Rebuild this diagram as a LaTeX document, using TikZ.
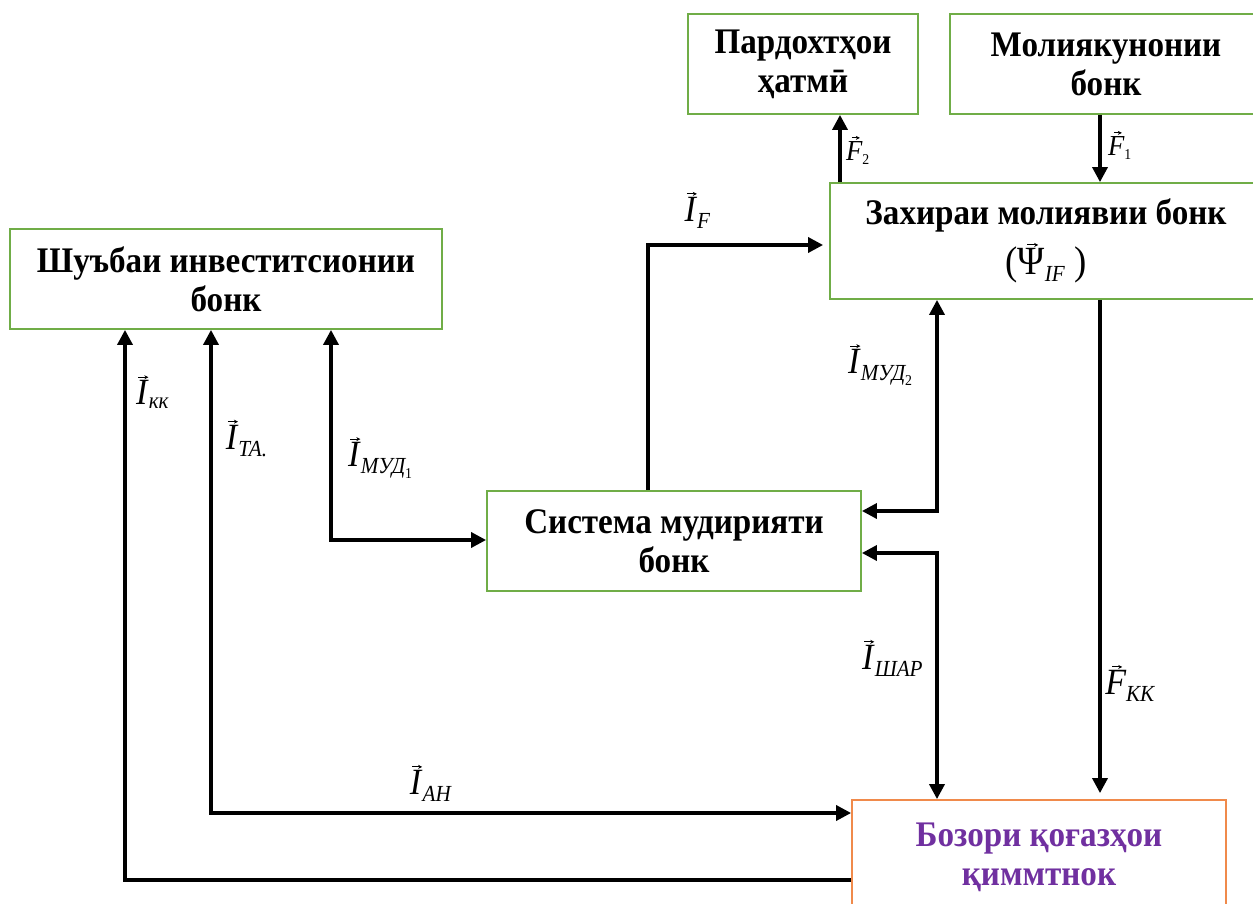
\documentclass[tikz,border=0pt]{standalone}
\usepackage{amsmath}
\usepackage{fontspec}
\setmainfont{Liberation Serif}[FakeStretch=0.92]
\usetikzlibrary{arrows.meta}
\definecolor{boxgreen}{HTML}{70AD47}
\definecolor{boxorange}{HTML}{F08A4B}
\definecolor{txtpurple}{HTML}{7030A0}
\newcommand{\itx}[1]{\text{\itshape #1}}
\newcommand{\sbx}[1]{\text{\fontsize{23}{24}\selectfont\itshape #1}}
\newcommand{\ssbx}[1]{\text{\fontsize{15}{16}\selectfont #1}}
\newcommand{\varw}[2][10pt]{\mathord{\vbox{\offinterlineskip\halign{\hfil##\hfil\cr
  \hbox{\kern3pt\tikz\draw[line width=0.9pt,-{Stealth[length=4pt,width=4pt]}] (0pt,0pt)--(#1,0pt);}\cr
  \noalign{\kern1.5pt}\hbox{#2}\cr}}}}
\tikzset{
  box/.style={draw=boxgreen, line width=1.8pt, inner sep=0pt, align=center,
    font=\fontsize{36}{39}\selectfont\bfseries},
  obox/.style={box, draw=boxorange, text=txtpurple},
  lab/.style={inner sep=0pt, font=\fontsize{37}{40}\selectfont},
  slab/.style={inner sep=0pt, font=\fontsize{29}{32}\selectfont},
  tipa/.tip={Triangle[length=15pt,width=15pt]},
  arr/.style={line width=3.4pt, -tipa},
  arrb/.style={line width=3.4pt, tipa-tipa},
}
\begin{document}
\begin{tikzpicture}[x=1pt,y=-1pt]
\useasboundingbox (0,0) rectangle (1253,904);
\clip (0,0) rectangle (1253,904);
% boxes
\node[box, minimum width=432pt, minimum height=116pt] (zakh) at (1046,241) {\raisebox{0pt}[\height][0pt]{Захираи молиявии бонк}\\[11pt]\mdseries\fontsize{40}{42}\selectfont$\text{(}\varw[11pt]{Ψ}_{\sbx{IF}}\text{ )}$};
\node[box, minimum width=432pt, minimum height=100pt] (shuy) at (226,279) {Шуъбаи инвеститсионии\\бонк};
\node[box, minimum width=230pt, minimum height=100pt] (pard) at (803,64) {Пардохтҳои\\ҳатмӣ};
\node[box, minimum width=312pt, minimum height=100pt] (moli) at (1106,64) {Молиякунонии\\бонк};
\node[box, minimum width=374pt, minimum height=100pt] (sist) at (674,541) {Система мудирияти\\бонк};
\node[obox, minimum width=374pt, minimum height=114pt] (boz) at (1039,857) {Бозори қоғазҳои\\қиммтнок};
% connectors
\draw[arr] (zakh.north -| 840,0) -- (pard.south -| 840,0);
\draw[arr] (moli.south -| 1100,0) -- (zakh.north -| 1100,0);
\draw[arr, shorten >=6pt] (sist.north -| 648,0) |- (zakh.west |- 0,245);
\draw[arrb] (sist.east |- 0,511) -| (zakh.south -| 937,0);
\draw[arrb] (sist.east |- 0,553) -| (boz.north -| 937,0);
\draw[arr, shorten >=6pt] (zakh.south -| 1100,0) -- (boz.north -| 1100,0);
\draw[arrb] (shuy.south -| 331,0) |- (sist.west |- 0,540);
\draw[arrb] (shuy.south -| 211,0) |- (boz.west |- 0,813);
\draw[arr] (boz.west |- 0,880) -| (shuy.south -| 125,0);
% labels
\node[slab] (lF2) at (858,150) {$\varw[8pt]{\itshape F}_{\ssbx{2}}$};
\node[slab] (lF1) at (1120,145) {$\varw[8pt]{\itshape F}_{\ssbx{1}}$};
\node[lab] (lIF) at (697,210) {$\varw{\itshape I}_{\sbx{F}}$};
\node[lab] (lMUD2) at (880,365) {$\varw{\itshape I}_{\sbx{МУД}_{\ssbx{2}}}$};
\node[lab] (lkk) at (152,392) {$\varw{\itshape I}_{\sbx{кк}}$};
\node[lab] (lTA) at (246,438) {$\varw{\itshape I}_{\sbx{ТА.}}$};
\node[lab] (lMUD1) at (380,458) {$\varw{\itshape I}_{\sbx{МУД}_{\ssbx{1}}}$};
\node[lab] (lSHAR) at (892,658) {$\varw{\itshape I}_{\sbx{ШАР}}$};
\node[lab] (lFKK) at (1130,683) {$\varw{\itshape F}_{\sbx{КК}}$};
\node[lab] (lAH) at (430,783) {$\varw{\itshape I}_{\sbx{АН}}$};
\end{tikzpicture}
\end{document}
